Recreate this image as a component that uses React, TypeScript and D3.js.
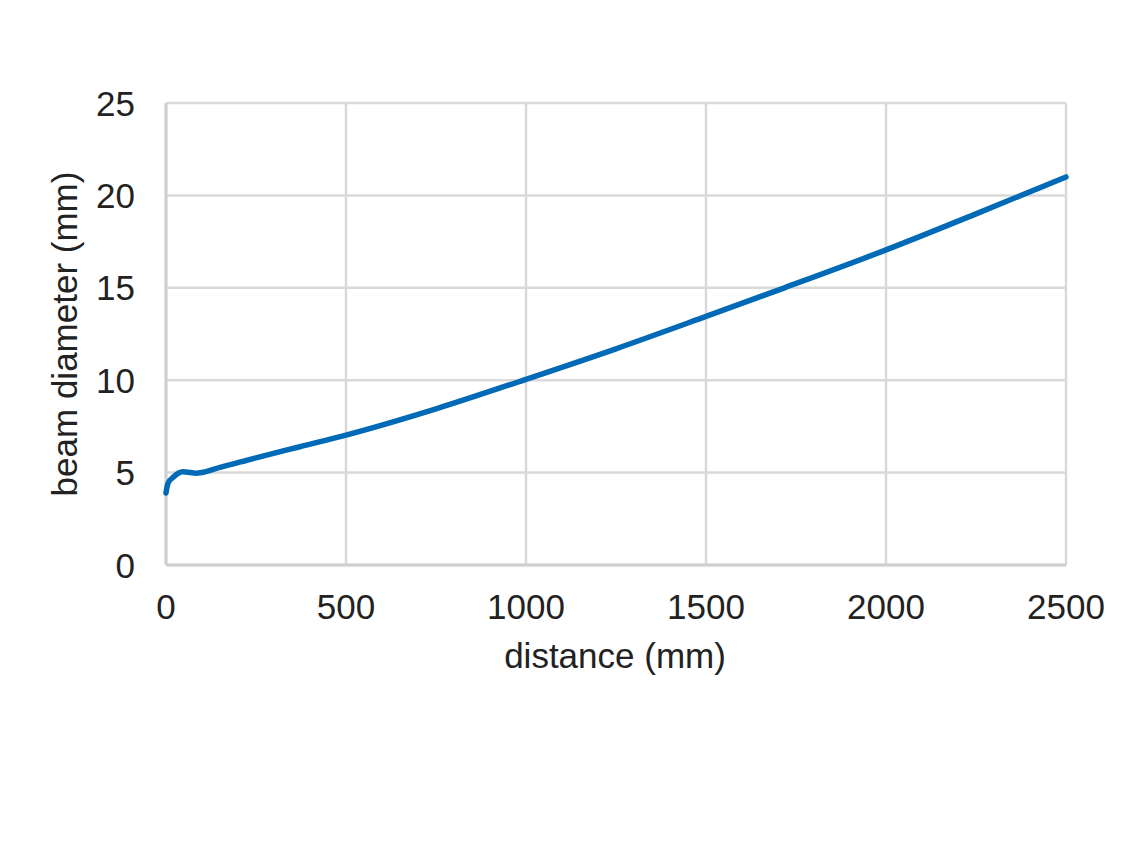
import React from "react";
import * as d3 from "d3";

const distances = [0, 5, 20, 47, 86, 150, 250, 372, 500, 750, 1000, 1250, 1500, 1718, 2000, 2250, 2500];
const diameters = [3.9, 4.4, 4.75, 5.05, 4.97, 5.28, 5.8, 6.4, 7.03, 8.45, 10.05, 11.7, 13.45, 15.0, 17.05, 19.0, 21.0];
const xTicks = [0, 500, 1000, 1500, 2000, 2500];
const yTicks = [0, 5, 10, 15, 20, 25];
const xTitle = "distance (mm)";
const yTitle = "beam diameter (mm)";

export default function App() {
  const W = 1134, H = 864;
  const left = 166, right = 1066, top = 103, bottom = 565;
  const x = d3.scaleLinear().domain([0, 2500]).range([left, right]);
  const y = d3.scaleLinear().domain([0, 25]).range([bottom, top]);
  const pts = distances.map((d, i) => [d, diameters[i]] as [number, number]);
  const line = d3.line<[number, number]>().x(d => x(d[0])).y(d => y(d[1])).curve(d3.curveMonotoneX);
  const font = "'Liberation Sans', Arial, sans-serif";
  const fs = 35;
  return (
    <svg width={W} height={H} style={{ position: "absolute", left: 0, top: 0, background: "#fff" }}>
      {yTicks.map(t => (
        <line key={"gy" + t} x1={left} x2={right} y1={y(t)} y2={y(t)} stroke="#d9d9d9" strokeWidth={2.5} />
      ))}
      {xTicks.map(t => (
        <line key={"gx" + t} x1={x(t)} x2={x(t)} y1={top} y2={bottom} stroke="#d9d9d9" strokeWidth={2.5} />
      ))}
      <line x1={left} x2={left} y1={top} y2={bottom} stroke="#cfcfcf" strokeWidth={3} />
      <line x1={left} x2={right} y1={bottom} y2={bottom} stroke="#cfcfcf" strokeWidth={3} />
      <path d={line(pts) || ""} fill="none" stroke="#006ab7" strokeWidth={5.5} strokeLinejoin="round" strokeLinecap="round" />
      {yTicks.map(t => (
        <text key={"ty" + t} x={135} y={y(t)} dy="0.36em" textAnchor="end" fontFamily={font} fontSize={fs} fill="#222">{t}</text>
      ))}
      {xTicks.map(t => (
        <text key={"tx" + t} x={x(t)} y={619} textAnchor="middle" fontFamily={font} fontSize={fs} fill="#222">{t}</text>
      ))}
      <text x={(left + right) / 2 - 1} y={668} textAnchor="middle" fontFamily={font} fontSize={fs} fill="#222">{xTitle}</text>
      <text transform={`translate(77, ${(top + bottom) / 2}) rotate(-90)`} textAnchor="middle" fontFamily={font} fontSize={fs} fill="#222">{yTitle}</text>
    </svg>
  );
}
